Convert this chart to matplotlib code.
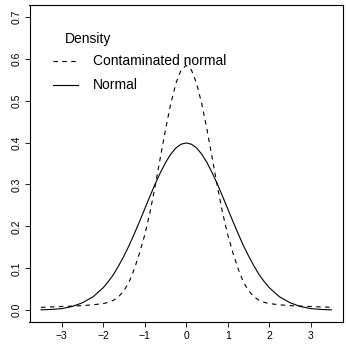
import matplotlib
matplotlib.use("Agg")
import matplotlib.pyplot as plt
from matplotlib.lines import Line2D

plt.rcParams['font.family'] = ['Liberation Sans', 'DejaVu Sans']

# values
x = [-3.5, -3.25, -3.0, -2.75, -2.5, -2.25, -2.0, -1.875, -1.75, -1.625, -1.5,
     -1.375, -1.25, -1.125, -1.0, -0.875, -0.75, -0.625, -0.5, -0.375, -0.25,
     -0.125, 0.0, 0.125, 0.25, 0.375, 0.5, 0.625, 0.75, 0.875, 1.0, 1.125,
     1.25, 1.375, 1.5, 1.625, 1.75, 1.875, 2.0, 2.25, 2.5, 2.75, 3.0, 3.25, 3.5]
normal = [0.001, 0.002, 0.004, 0.009, 0.018, 0.032, 0.054, 0.069, 0.086, 0.107,
          0.130, 0.155, 0.183, 0.212, 0.242, 0.272, 0.301, 0.328, 0.352, 0.372,
          0.387, 0.396, 0.399, 0.396, 0.387, 0.372, 0.352, 0.328, 0.301, 0.272,
          0.242, 0.212, 0.183, 0.155, 0.130, 0.107, 0.086, 0.069, 0.054, 0.032,
          0.018, 0.009, 0.004, 0.002, 0.001]
contaminated = [0.007, 0.008, 0.009, 0.010, 0.011, 0.013, 0.016, 0.019, 0.024,
                0.033, 0.047, 0.068, 0.099, 0.137, 0.180, 0.233, 0.296, 0.364,
                0.431, 0.492, 0.541, 0.573, 0.584, 0.573, 0.541, 0.492, 0.431,
                0.364, 0.296, 0.233, 0.180, 0.137, 0.099, 0.068, 0.047, 0.033,
                0.024, 0.019, 0.016, 0.013, 0.011, 0.010, 0.009, 0.008, 0.007]
xticks = [-3, -2, -1, 0, 1, 2, 3]
yticks = [0.0, 0.1, 0.2, 0.3, 0.4, 0.5, 0.6, 0.7]

W, H = 346, 345
fig = plt.figure(figsize=(W / 100, H / 100), dpi=100)
ax = fig.add_axes([29.5 / W, 23 / H, 313.5 / W, 317 / H])

dash = (0, (4, 4))
ax.plot(x, contaminated, color='black', lw=0.8, linestyle=dash)
ax.plot(x, normal, color='black', lw=0.8)

ax.set_xlim(-3.78, 3.78)
ax.set_ylim(-0.028, 0.728)
ax.set_xticks(xticks)
ax.set_xticklabels([str(t).replace('-', '\u2212') for t in xticks])
ax.set_yticks(yticks)
ax.set_yticklabels(['%.1f' % t for t in yticks], rotation=90, va='center')
ax.tick_params(labelsize=7.5, length=3.5, width=0.6)
ax.tick_params(axis='x', pad=3)
ax.tick_params(axis='y', pad=2)
for s in ax.spines.values():
    s.set_linewidth(0.8)

# legend drawn by hand, like the R one
fig.text(65 / W, 1 - 38.5 / H, 'Density', fontsize=10, va='center')
for ypx, style, label in [(61, dash, 'Contaminated normal'), (85, '-', 'Normal')]:
    yf = 1 - ypx / H
    fig.add_artist(Line2D([53 / W, 78 / W], [yf, yf], color='black',
                          lw=0.8, linestyle=style))
    fig.text(93 / W, yf, label, fontsize=10, va='center')

fig.savefig('out.png', dpi=100)
